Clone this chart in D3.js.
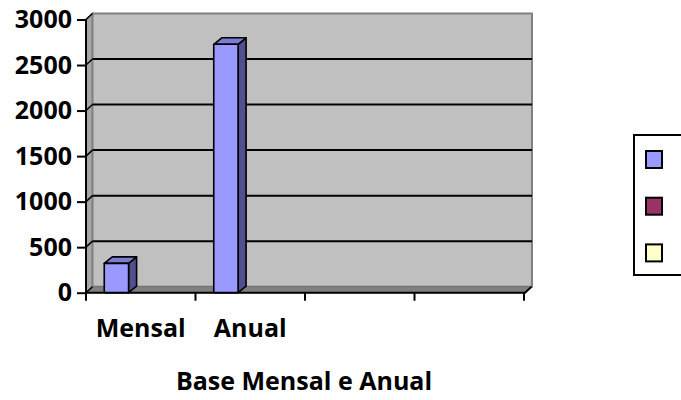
<!DOCTYPE html>
<html><head><meta charset="utf-8">
<script src="https://cdn.jsdelivr.net/npm/d3@7/dist/d3.min.js"></script>
<style>body{margin:0;background:#fff}svg{display:block}text{font-family:"Open Sans",sans-serif;font-weight:bold;fill:#000}</style>
</head><body>
<svg id="c" width="681" height="400"></svg>
<script>
const categories = ["Mensal", "Anual", "", ""];
const seriesNames = ["Série 1", "Série 2", "Série 3"];
const serie1 = [322, 2728, null, null];
const serie2 = [null, null, null, null];
const serie3 = [null, null, null, null];
const yTicks = [0, 500, 1000, 1500, 2000, 2500, 3000];
const title = "Base Mensal e Anual";

const seriesColors = [
  {front:"#9999ff", side:"#505090", top:"#7c7cd4"},
  {front:"#993366", side:"#5c1e3d", top:"#7a2952"},
  {front:"#ffffcc", side:"#99997a", top:"#ccccA3"}
];
const allSeries = [serie1, serie2, serie3];

const svg = d3.select("#c");
const x0 = 86, x1 = 524, yB = 292.7, yT = 19.5;
const wdx = 6.5, wdy = -6;      // wall/floor depth
const bdx = 8, bdy = -6.5;      // bar depth

const x = d3.scaleBand().domain(d3.range(categories.length)).range([x0, x1]).padding(0);
const xs = d3.scaleBand().domain(d3.range(allSeries.length)).range([0, x.bandwidth()]).paddingInner(0).paddingOuter(0.75);
const y = d3.scaleLinear().domain([0, 3000]).range([yB, yT]);

// left side wall
svg.append("polygon")
  .attr("points", [[x0, yB],[x0, yT],[x0+wdx, yT+wdy],[x0+wdx, yB+wdy]].join(" "))
  .attr("fill", "#a6a6a6").attr("stroke", "#808080").attr("stroke-width", 1.5);
// back wall
svg.append("rect")
  .attr("x", x0+wdx).attr("y", yT+wdy).attr("width", x1-x0+1.5).attr("height", yB-yT)
  .attr("fill", "#c0c0c0").attr("stroke", "#808080").attr("stroke-width", 2);
// floor
svg.append("polygon")
  .attr("points", [[x0, yB],[x1+1, yB],[x1+1+wdx, yB+wdy],[x0+wdx, yB+wdy]].join(" "))
  .attr("fill", "#808080").attr("stroke", "#707070").attr("stroke-width", 1);

// gridlines
const g = svg.append("g");
yTicks.filter(v => v > 0 && v < 3000).forEach(v => {
  g.append("line").attr("x1", x0+wdx).attr("x2", x1+1.5+wdx)
    .attr("y1", y(v)+wdy).attr("y2", y(v)+wdy).attr("stroke", "#000").attr("stroke-width", 2);
});
yTicks.forEach(v => {
  g.append("line").attr("x1", x0).attr("x2", x0+wdx)
    .attr("y1", y(v)).attr("y2", y(v)+wdy).attr("stroke", "#000").attr("stroke-width", 1.5);
});

// bars
allSeries.forEach((s, si) => {
  const c = seriesColors[si];
  s.forEach((v, ci) => {
    if (v == null) return;
    const bx = x(ci) + xs(si), bw = xs.bandwidth(), by = y(v), b0 = y(0);
    const bg = svg.append("g").attr("stroke", "#000").attr("stroke-width", 1.6).attr("stroke-linejoin", "round");
    bg.append("polygon").attr("points", [[bx+bw, b0],[bx+bw, by],[bx+bw+bdx, by+bdy],[bx+bw+bdx, b0+bdy]].join(" ")).attr("fill", c.side);
    bg.append("polygon").attr("points", [[bx, by],[bx+bw, by],[bx+bw+bdx, by+bdy],[bx+bdx, by+bdy]].join(" ")).attr("fill", c.top);
    bg.append("rect").attr("x", bx).attr("y", by).attr("width", bw).attr("height", b0-by).attr("fill", c.front);
  });
});

// y axis
const ya = svg.append("g").attr("transform", `translate(${x0},0)`)
  .call(d3.axisLeft(y).tickValues(yTicks).tickSize(9).tickPadding(5).tickFormat(d3.format("d")));
ya.select(".domain").attr("stroke", "#000").attr("stroke-width", 2).attr("d", `M0,${yB}V${yT}`);
ya.selectAll(".tick line").attr("stroke", "#000").attr("stroke-width", 2);
ya.selectAll(".tick text").attr("font-size", 25).attr("font-family", "Open Sans").attr("font-weight", "bold").attr("fill", "#000");

// x axis
const xa = svg.append("g").attr("transform", `translate(0,${yB})`);
xa.append("path").attr("d", `M${x0},0H${x1+1}l${wdx},${wdy}`).attr("fill", "none").attr("stroke", "#000").attr("stroke-width", 2);
d3.range(categories.length + 1).forEach(i => {
  const tx = i < categories.length ? x(i) : x1;
  xa.append("line").attr("x1", tx).attr("x2", tx).attr("y1", 0).attr("y2", 8).attr("stroke", "#000").attr("stroke-width", 2);
});
xa.selectAll("text.cat").data(categories).join("text").attr("class", "cat")
  .attr("x", (d, i) => x(i) + x.bandwidth()/2).attr("y", 44.3)
  .attr("text-anchor", "middle").attr("font-size", 25).text(d => d);

// title
svg.append("text").attr("x", 304).attr("y", 390).attr("text-anchor", "middle").attr("font-size", 25).text(title);

// legend
const lg = svg.append("g");
lg.append("rect").attr("x", 634).attr("y", 135).attr("width", 80).attr("height", 140)
  .attr("fill", "#fff").attr("stroke", "#000").attr("stroke-width", 2);
seriesNames.forEach((n, i) => {
  lg.append("rect").attr("x", 646).attr("y", 151 + i*46.7).attr("width", 16).attr("height", 17)
    .attr("fill", seriesColors[i].front).attr("stroke", "#000").attr("stroke-width", 2);
});
</script>
</body></html>
